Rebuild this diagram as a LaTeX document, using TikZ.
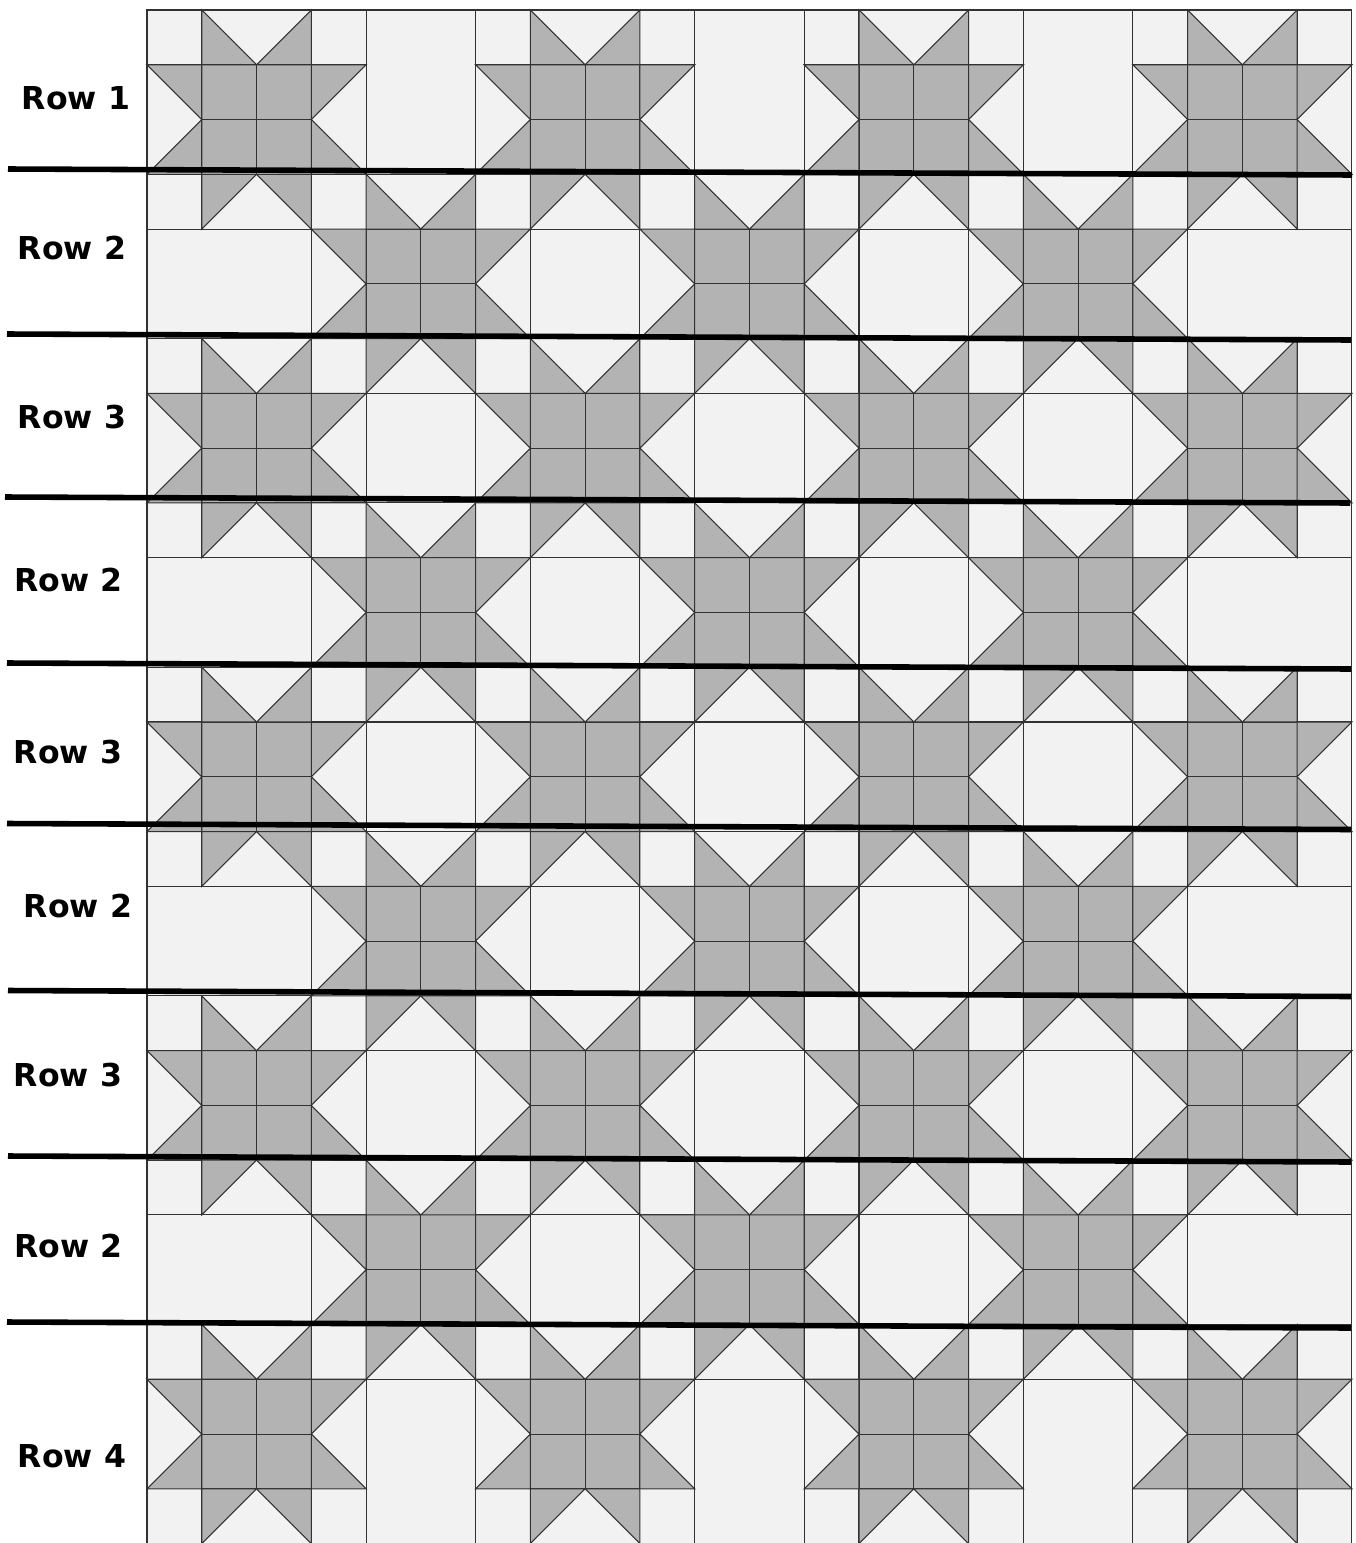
\documentclass[tikz,border=0pt]{standalone}
\usepackage{fontspec}
\setmainfont{DejaVu Sans}
\definecolor{lightpc}{RGB}{242,242,242}
\definecolor{darkpc}{RGB}{179,179,179}
\definecolor{seamc}{RGB}{50,50,50}
\tikzset{
  seamline/.style={draw=seamc, line width=0.55pt, line join=miter},
  sepline/.style={draw=black, line width=2.9pt},
  rowlabel/.style={font=\fontsize{16.4}{19}\selectfont\bfseries, inner sep=0pt, anchor=center}
}
\newcommand\qstar[2]{%
  \foreach \sx in {-1,1}{\foreach \sy in {-1,1}{%
    \draw[seamline] ({#1+\sx},{#2+\sy}) rectangle ({#1+2*\sx},{#2+2*\sy});
    \filldraw[fill=darkpc,seamline] (#1,#2) rectangle ({#1+\sx},{#2+\sy});
    \filldraw[fill=darkpc,seamline] ({#1+\sx},{#2+\sy}) -- ({#1+\sx},{#2+2*\sy}) -- (#1,{#2+\sy}) -- cycle;
    \filldraw[fill=darkpc,seamline] ({#1+\sx},{#2+\sy}) -- ({#1+2*\sx},{#2+\sy}) -- ({#1+\sx},#2) -- cycle;
  }}%
  \draw[seamline] ({#1-2},{#2-2}) rectangle ({#1+2},{#2+2});
}
\begin{document}
\begin{tikzpicture}[x=0.52pt,y=-0.52pt]
\useasboundingbox (0,0) rectangle (1356,1543);
\fill[white] (0,0) rectangle (1356,1543);
\begin{scope}[shift={(147,10)},scale=54.77]
  \filldraw[fill=lightpc,seamline] (0,0) rectangle (22,28);
  \foreach \cy in {2,8,14,20,26}{\foreach \cx in {2,8,14,20}{\qstar{\cx}{\cy}}}
  \foreach \cy in {5,11,17,23}{\foreach \cx in {5,11,17}{\qstar{\cx}{\cy}}}
\end{scope}
% separators
\draw[sepline] (8,169) -- (1352,175);
\draw[sepline] (7,334) -- (1351,340);
\draw[sepline] (5,497) -- (1350,503);
\draw[sepline] (7,663) -- (1351,669);
\draw[sepline] (7,823.5) -- (1351,829.5);
\draw[sepline] (8,990.5) -- (1351,996.5);
\draw[sepline] (8,1156) -- (1351,1162);
\draw[sepline] (7,1322) -- (1351,1328);
% labels
\node[rowlabel] (r1) at (76,98.5) {Row 1};
\node[rowlabel] (r2a) at (72,248.5) {Row 2};
\node[rowlabel] (r3a) at (72,417) {Row 3};
\node[rowlabel] (r2b) at (68.5,580) {Row 2};
\node[rowlabel] (r3b) at (68,752) {Row 3};
\node[rowlabel] (r2c) at (78,906) {Row 2};
\node[rowlabel] (r3c) at (68,1075) {Row 3};
\node[rowlabel] (r2d) at (68.5,1246) {Row 2};
\node[rowlabel] (r4) at (72,1456.5) {Row 4};
\end{tikzpicture}
\end{document}
